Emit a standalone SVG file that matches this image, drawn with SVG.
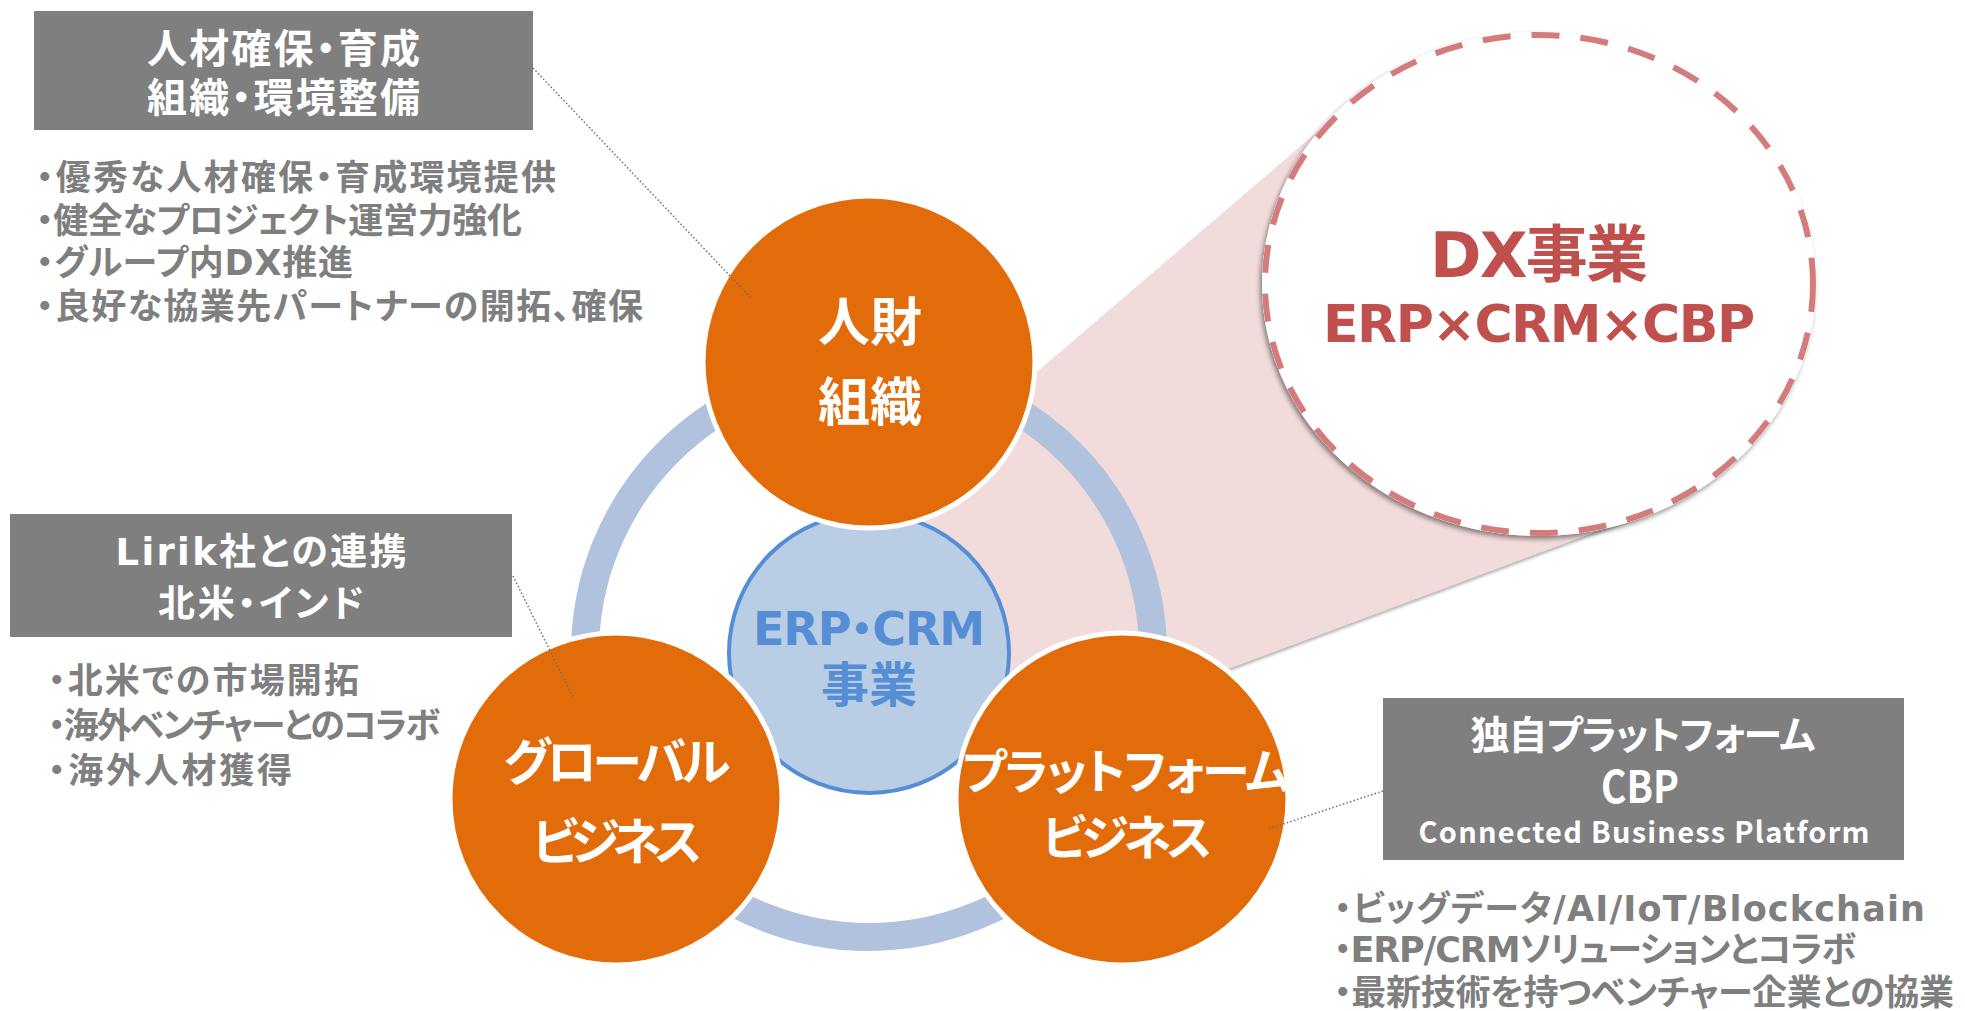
<svg xmlns="http://www.w3.org/2000/svg" width="1965" height="1011" viewBox="0 0 1965 1011">
<defs>
<style>
text { font-family: 'DejaVu Sans', 'Noto Sans CJK JP', sans-serif; font-weight: 700; font-feature-settings: 'palt' 1; }
.cond { font-family: 'Noto Sans CJK JP', 'Noto Sans', sans-serif; }
.box { fill: #7F7F7F; }
.wt { fill: #FFFFFF; text-anchor: middle; }
.bl { fill: #7F7F7F; font-size: 35px; }
.orange { fill: #E36C0A; stroke: #FFFFFF; stroke-width: 5; }
.ot { fill: #FFFFFF; text-anchor: middle; font-family: 'Noto Sans CJK JP', sans-serif; }
.dot { fill: none; stroke: #707070; stroke-width: 1.5; stroke-dasharray: 1.5 2.2; }
</style>
<filter id="shadow" x="-20%" y="-20%" width="140%" height="140%">
<feDropShadow dx="-2" dy="3" stdDeviation="2.5" flood-color="#000000" flood-opacity="0.45"/>
</filter>
<filter id="coneShadow" x="-10%" y="-10%" width="120%" height="120%">
<feDropShadow dx="-1" dy="3" stdDeviation="1.5" flood-color="#000000" flood-opacity="0.3"/>
</filter>
</defs>
<rect x="0" y="0" width="1965" height="1011" fill="#FFFFFF"/>

<g id="cone">
<polygon points="1351,103 1539,284 1643,514 1150,698 1000,700 870,653 880,470 960,438" fill="#F2DCDB" filter="url(#coneShadow)"/>
</g>

<g id="ring">
<circle cx="869" cy="653" r="284" fill="none" stroke="#B0C2DD" stroke-width="28"/>
</g>

<g id="node-erp-crm">
<circle cx="869" cy="653" r="140" fill="#B9CDE5" stroke="#558ED5" stroke-width="4"/>
<text font-size="46" fill="#558ED5" text-anchor="middle"><tspan x="869" y="645" textLength="232">ERP・CRM</tspan><tspan x="869" y="702" font-size="48">事業</tspan></text>
</g>

<g id="node-jinzai">
<circle class="orange" cx="869" cy="362" r="166"/>
<text class="ot" font-size="52"><tspan x="870" y="341">人財</tspan><tspan x="870" y="421">組織</tspan></text>
</g>

<g id="node-global">
<circle class="orange" cx="616" cy="799" r="166"/>
<text class="ot" font-size="50"><tspan x="617" y="780" textLength="227">グローバル</tspan><tspan x="617" y="860" textLength="170">ビジネス</tspan></text>
</g>

<g id="node-platform">
<circle class="orange" cx="1122" cy="799" r="166"/>
<text class="ot" font-size="48"><tspan x="1126" y="789" textLength="328">プラットフォーム</tspan><tspan x="1127" y="855" textLength="170">ビジネス</tspan></text>
</g>

<g id="node-dx">
<ellipse cx="1539" cy="284" rx="274" ry="249" fill="#FFFFFF" stroke="#FFFFFF" stroke-width="6" filter="url(#shadow)"/>
<ellipse cx="1539" cy="284" rx="274" ry="249" fill="none" stroke="#D47C7C" stroke-width="6" stroke-dasharray="28 21"/>
<text fill="#C0504D" text-anchor="middle"><tspan x="1539" y="277" font-size="62" textLength="218">DX事業</tspan><tspan x="1539" y="342" font-size="52" textLength="432">ERP×CRM×CBP</tspan></text>
</g>

<g id="label-jinzai">
<rect class="box" x="34" y="11" width="499" height="119"/>
<text class="wt" font-size="40"><tspan x="283.5" y="63" textLength="273">人材確保・育成</tspan><tspan x="283.5" y="112" textLength="273">組織・環境整備</tspan></text>
<text class="bl"><tspan x="36" y="190" textLength="520">・優秀な人材確保・育成環境提供</tspan><tspan x="36" y="233" textLength="486">・健全なプロジェクト運営力強化</tspan><tspan x="36" y="275" textLength="317">・グループ内DX推進</tspan><tspan x="36" y="319" textLength="607">・良好な協業先パートナーの開拓、確保</tspan></text>
</g>

<g id="label-global">
<rect class="box" x="10" y="514" width="502" height="123"/>
<text class="wt" font-size="37"><tspan x="261" y="565" textLength="291">Lirik社との連携</tspan><tspan x="261" y="617" textLength="206">北米・インド</tspan></text>
<text class="bl"><tspan x="48" y="693" textLength="311">・北米での市場開拓</tspan><tspan x="48" y="738" textLength="392">・海外ベンチャーとのコラボ</tspan><tspan x="48" y="783" textLength="244">・海外人材獲得</tspan></text>
</g>

<g id="label-platform">
<rect class="box" x="1383" y="698" width="521" height="162"/>
<text class="wt cond"><tspan x="1643" y="749" font-size="39" textLength="345">独自プラットフォーム</tspan><tspan x="1640" y="803" font-size="44" textLength="78" lengthAdjust="spacingAndGlyphs">CBP</tspan><tspan x="1644" y="843" font-size="29" textLength="451">Connected Business Platform</tspan></text>
<text class="bl"><tspan x="1334" y="921" textLength="591">・ビッグデータ/AI/IoT/Blockchain</tspan><tspan x="1334" y="962" textLength="522">・ERP/CRMソリューションとコラボ</tspan><tspan x="1334" y="1005" textLength="620">・最新技術を持つベンチャー企業との協業</tspan></text>
</g>

<g id="connectors">
<line class="dot" x1="533" y1="68" x2="750" y2="297"/>
<line class="dot" x1="513" y1="576" x2="574" y2="699"/>
<line class="dot" x1="1383" y1="791" x2="1268" y2="829"/>
</g>
</svg>
